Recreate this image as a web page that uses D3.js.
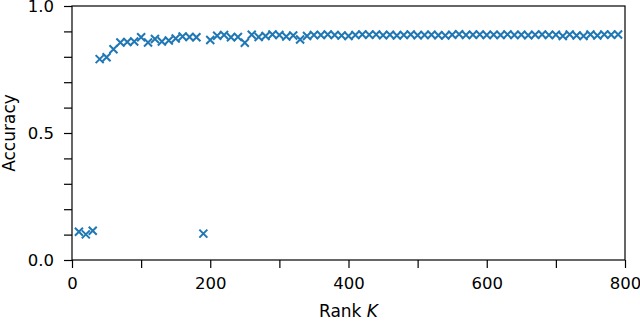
<!DOCTYPE html>
<html>
<head>
<meta charset="utf-8">
<script src="https://cdn.jsdelivr.net/npm/d3@7"></script>
<style>
body { margin: 0; background: #fff; }
text { font-family: "DejaVu Sans", sans-serif; fill: #000; }
</style>
</head>
<body>
<script>
// rank K values, step 10
var ranks = [10, 20, 30, 40, 50, 60, 70, 80, 90, 100, 110, 120, 130, 140, 150, 160, 170, 180, 190, 200,
    210, 220, 230, 240, 250, 260, 270, 280, 290, 300, 310, 320, 330, 340, 350, 360, 370, 380, 390, 400,
    410, 420, 430, 440, 450, 460, 470, 480, 490, 500, 510, 520, 530, 540, 550, 560, 570, 580, 590, 600,
    610, 620, 630, 640, 650, 660, 670, 680, 690, 700, 710, 720, 730, 740, 750, 760, 770, 780, 790];
// accuracy
var accuracy = [0.111, 0.101, 0.115, 0.791, 0.798, 0.830, 0.856, 0.858, 0.860, 0.877, 0.856, 0.870, 0.860, 0.864, 0.872, 0.880, 0.878, 0.877, 0.104, 0.866,
    0.883, 0.886, 0.877, 0.878, 0.855, 0.887, 0.878, 0.882, 0.888, 0.886, 0.880, 0.884, 0.868, 0.882, 0.886, 0.886, 0.888, 0.886, 0.884, 0.882,
    0.886, 0.888, 0.887, 0.888, 0.885, 0.887, 0.884, 0.886, 0.888, 0.885, 0.886, 0.887, 0.885, 0.884, 0.887, 0.889, 0.886, 0.887, 0.888, 0.886,
    0.887, 0.886, 0.888, 0.886, 0.887, 0.885, 0.887, 0.888, 0.886, 0.887, 0.882, 0.888, 0.884, 0.882, 0.888, 0.884, 0.888, 0.887, 0.888];

var xTicks = [0, 200, 400, 600, 800];
var xMinor = [100, 300, 500, 700];
var yTicks = [0.0, 0.5, 1.0];
var yMinor = [0.1, 0.2, 0.3, 0.4, 0.6, 0.7, 0.8, 0.9];

var width = 640, height = 321;
var mLeft = 72, mRight = 625, mTop = 6, mBottom = 260;
var blue = "#1f77b4";

var svg = d3.select("body").append("svg")
    .attr("width", width)
    .attr("height", height);

var x = d3.scaleLinear().domain([0, 800]).range([mLeft, mRight]);
var y = d3.scaleLinear().domain([0, 1]).range([mBottom, mTop]);

// minor ticks first, majors with labels
svg.append("g")
    .attr("transform", "translate(0," + mBottom + ")")
    .call(d3.axisBottom(x).tickValues(xMinor).tickSize(8).tickFormat(""));
svg.append("g")
    .attr("transform", "translate(" + mLeft + ",0)")
    .call(d3.axisLeft(y).tickValues(yMinor).tickSize(8).tickFormat(""));

svg.append("g")
    .attr("transform", "translate(0," + mBottom + ")")
    .call(d3.axisBottom(x).tickValues(xTicks).tickSize(8).tickPadding(9).tickFormat(d3.format("d")));
svg.append("g")
    .attr("transform", "translate(" + mLeft + ",0)")
    .call(d3.axisLeft(y).tickValues(yTicks).tickSize(8).tickPadding(10).tickFormat(d3.format(".1f")));

svg.selectAll(".domain").remove();
svg.selectAll(".tick line").attr("stroke", "#000").attr("stroke-width", 1.2);
svg.selectAll(".tick text").style("font-family", "DejaVu Sans").style("font-size", "16.5px").attr("fill", "#000");

// frame
svg.append("rect")
    .attr("x", mLeft).attr("y", mTop)
    .attr("width", mRight - mLeft).attr("height", mBottom - mTop)
    .attr("fill", "none").attr("stroke", "#000").attr("stroke-width", 1.2);

var pts = ranks.map(function(k, i) { return { k: k, a: accuracy[i] }; });
var s = 4;

svg.selectAll(".pt")
    .data(pts)
    .enter()
    .append("path")
    .attr("class", "pt")
    .attr("d", function(d) {
        var cx = x(d.k), cy = y(d.a);
        return "M" + (cx - s) + "," + (cy - s) + "L" + (cx + s) + "," + (cy + s) +
            "M" + (cx - s) + "," + (cy + s) + "L" + (cx + s) + "," + (cy - s);
    })
    .attr("stroke", blue)
    .attr("stroke-width", 2)
    .attr("fill", "none");

svg.append("text")
    .attr("x", (mLeft + mRight) / 2)
    .attr("y", 317)
    .attr("text-anchor", "middle")
    .style("font-size", "17px")
    .html("Rank <tspan font-style='italic'>K</tspan>");

svg.append("text")
    .attr("transform", "translate(15," + ((mTop + mBottom) / 2) + ") rotate(-90)")
    .attr("text-anchor", "middle")
    .style("font-size", "17px")
    .text("Accuracy");
</script>
</body>
</html>
